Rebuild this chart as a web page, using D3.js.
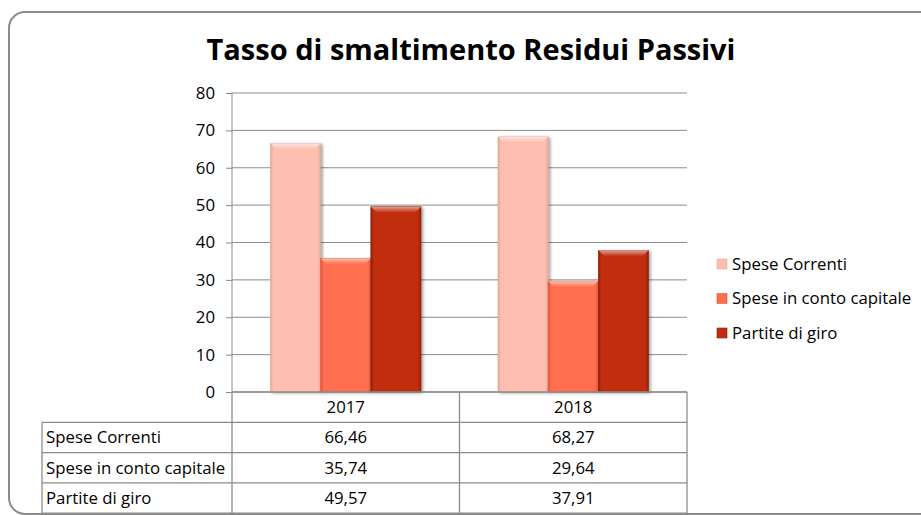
<!DOCTYPE html>
<html>
<head>
<meta charset="utf-8">
<script src="https://cdn.jsdelivr.net/npm/d3@7"></script>
<style>
  body { margin: 0; background: #fff; }
  svg { display: block; font-family: "Open Sans", sans-serif; }
</style>
</head>
<body>
<div id="chart"></div>
<script>
const years = ["2017", "2018"]
const seriesNames = ["Spese Correnti", "Spese in conto capitale", "Partite di giro"]
const speseCorrenti = [66.46, 68.27]
const speseContoCapitale = [35.74, 29.64]
const partiteDiGiro = [49.57, 37.91]
const yTicks = [0, 10, 20, 30, 40, 50, 60, 70, 80]
const colors = ["#ffbfb0", "#ff6e4f", "#c22d10"]
const edgeColors = ["#e8a596", "#e0553a", "#8e1f08"]

const seriesValues = [speseCorrenti, speseContoCapitale, partiteDiGiro]
const data = years.map((y, i) => ({
  year: y,
  values: seriesNames.map((s, j) => ({series: s, idx: j, value: seriesValues[j][i]}))
}))

const size = [921, 515]
const margin = ({top: 93, right: 234, bottom: 123, left: 232})
const rowH = 30.3
const fontSize = 16.8

const svg = d3.create("svg")
  .attr("width", size[0])
  .attr("height", size[1])

const defs = svg.append("defs")
colors.forEach((c, i) => {
  const g = defs.append("linearGradient")
    .attr("id", "bar-" + i)
    .attr("x1", 0).attr("x2", 1).attr("y1", 0).attr("y2", 0)
  g.append("stop").attr("offset", 0).attr("stop-color", edgeColors[i])
  g.append("stop").attr("offset", 0.06).attr("stop-color", c)
  g.append("stop").attr("offset", 0.94).attr("stop-color", c)
  g.append("stop").attr("offset", 1).attr("stop-color", edgeColors[i])
  const t = defs.append("linearGradient")
    .attr("id", "top-" + i)
    .attr("x1", 0).attr("x2", 0).attr("y1", 0).attr("y2", 1)
  t.append("stop").attr("offset", 0).attr("stop-color", "#fff").attr("stop-opacity", 0.55)
  t.append("stop").attr("offset", 1).attr("stop-color", "#fff").attr("stop-opacity", 0)
})
const shadow = defs.append("filter").attr("id", "shadow")
  .attr("x", "-20%").attr("y", "-10%").attr("width", "140%").attr("height", "120%")
shadow.append("feGaussianBlur").attr("in", "SourceAlpha").attr("stdDeviation", 1.5)
shadow.append("feOffset").attr("dx", 2).attr("dy", 1).attr("result", "b")
shadow.append("feComponentTransfer").append("feFuncA").attr("type", "linear").attr("slope", 0.35)
const merge = shadow.append("feMerge")
merge.append("feMergeNode")
merge.append("feMergeNode").attr("in", "SourceGraphic")

// outer frame (right side runs off the picture)
svg.append("rect")
  .attr("x", 9).attr("y", 12)
  .attr("width", 940).attr("height", 502)
  .attr("rx", 16)
  .attr("fill", "#fff")
  .attr("stroke", "#8c8c8c")
  .attr("stroke-width", 2)

svg.append("text")
  .attr("x", 471)
  .attr("y", 60)
  .attr("text-anchor", "middle")
  .attr("font-weight", "bold")
  .attr("font-size", 29)
  .attr("fill", "#000")
  .text("Tasso di smaltimento Residui Passivi")

const scaleX = d3.scaleBand()
  .domain(years)
  .range([margin.left, size[0] - margin.right])

const scaleY = d3.scaleLinear()
  .domain([0, 80])
  .range([size[1] - margin.bottom, margin.top])

const inner = d3.scaleBand()
  .domain(d3.range(seriesNames.length))
  .range([38.5, scaleX.bandwidth() - 38.5])

// gridlines + y axis
const yAxis = g => g
  .attr("transform", `translate(${margin.left},0)`)
  .call(d3.axisLeft(scaleY).tickValues(yTicks).tickSize(6).tickPadding(11))
  .attr("font-size", fontSize)
  .attr("font-family", null)
  .call(g => g.selectAll(".tick line").attr("stroke", "#888"))
  .call(g => g.select(".domain").remove())
  .call(g => g.selectAll(".tick text").attr("fill", "#000"))

svg.append("g")
  .selectAll("line")
  .data(yTicks)
  .join("line")
    .attr("x1", margin.left)
    .attr("x2", size[0] - margin.right)
    .attr("y1", d => scaleY(d))
    .attr("y2", d => scaleY(d))
    .attr("stroke", "#8c8c8c")
    .attr("stroke-width", 1)

svg.append("g").call(yAxis)

svg.append("line")
  .attr("x1", margin.left).attr("x2", margin.left)
  .attr("y1", scaleY(80)).attr("y2", scaleY(0))
  .attr("stroke", "#8c8c8c")

// bars
const groups = svg.append("g")
  .selectAll("g")
  .data(data)
  .join("g")
    .attr("transform", d => `translate(${scaleX(d.year)},0)`)

const bar = groups.selectAll("g")
  .data(d => d.values)
  .join("g")
    .attr("filter", "url(#shadow)")

bar.append("rect")
  .attr("x", d => inner(d.idx))
  .attr("y", d => scaleY(d.value))
  .attr("width", inner.bandwidth())
  .attr("height", d => scaleY(0) - scaleY(d.value))
  .attr("fill", d => `url(#bar-${d.idx})`)
  .attr("stroke", d => edgeColors[d.idx])
  .attr("stroke-width", 0.6)

bar.append("path")
  .attr("d", d => {
    const x0 = inner(d.idx), x1 = x0 + inner.bandwidth(), y0 = scaleY(d.value)
    return `M${x0},${y0}L${x1},${y0}L${x1 - 6},${y0 + 6}L${x0 + 6},${y0 + 6}Z`
  })
  .attr("fill", d => `url(#top-${d.idx})`)

// data table
const tableTop = scaleY(0)
const tableLeft = 42
const table = svg.append("g")
  .attr("stroke", "#8c8c8c")
  .attr("stroke-width", 1.3)

table.append("line")
  .attr("x1", margin.left).attr("x2", size[0] - margin.right)
  .attr("y1", tableTop).attr("y2", tableTop)

d3.range(1, seriesNames.length + 2).forEach(r => {
  table.append("line")
    .attr("x1", tableLeft).attr("x2", size[0] - margin.right)
    .attr("y1", tableTop + rowH * r).attr("y2", tableTop + rowH * r)
})
table.append("line")
  .attr("x1", tableLeft).attr("x2", tableLeft)
  .attr("y1", tableTop + rowH).attr("y2", tableTop + rowH * 4)
const colEdges = [margin.left, ...years.map(y => scaleX(y) + scaleX.bandwidth())]
colEdges.forEach(x => {
  table.append("line")
    .attr("x1", x).attr("x2", x)
    .attr("y1", tableTop).attr("y2", tableTop + rowH * 4)
})

const txt = svg.append("g")
  .attr("font-size", fontSize)
  .attr("fill", "#000")

txt.selectAll(".hdr")
  .data(years)
  .join("text")
    .attr("class", "hdr")
    .attr("x", d => scaleX(d) + scaleX.bandwidth() / 2)
    .attr("y", tableTop + rowH / 2 + 6)
    .attr("text-anchor", "middle")
    .text(d => d)

seriesNames.forEach((s, j) => {
  const y = tableTop + rowH * (j + 1) + rowH / 2 + 6
  txt.append("text")
    .attr("x", tableLeft + 4)
    .attr("y", y)
    .text(s)
  years.forEach((yr, i) => {
    txt.append("text")
      .attr("x", scaleX(yr) + scaleX.bandwidth() / 2)
      .attr("y", y)
      .attr("text-anchor", "middle")
      .text(d3.format(".2f")(seriesValues[j][i]).replace(".", ","))
  })
})

// legend
const legend = svg.append("g")
  .attr("transform", "translate(717,263)")
const li = legend.selectAll("g")
  .data(seriesNames)
  .join("g")
    .attr("transform", (d, i) => `translate(0,${i * 34.5})`)
li.append("rect")
  .attr("x", 0).attr("y", -4)
  .attr("width", 10).attr("height", 10)
  .attr("fill", (d, i) => `url(#bar-${i})`)
  .attr("stroke", (d, i) => edgeColors[i])
  .attr("stroke-width", 0.6)
li.append("text")
  .attr("x", 15)
  .attr("y", 6.5)
  .attr("font-size", fontSize)
  .text(d => d)

d3.select("#chart").append(() => svg.node())
</script>
</body>
</html>
